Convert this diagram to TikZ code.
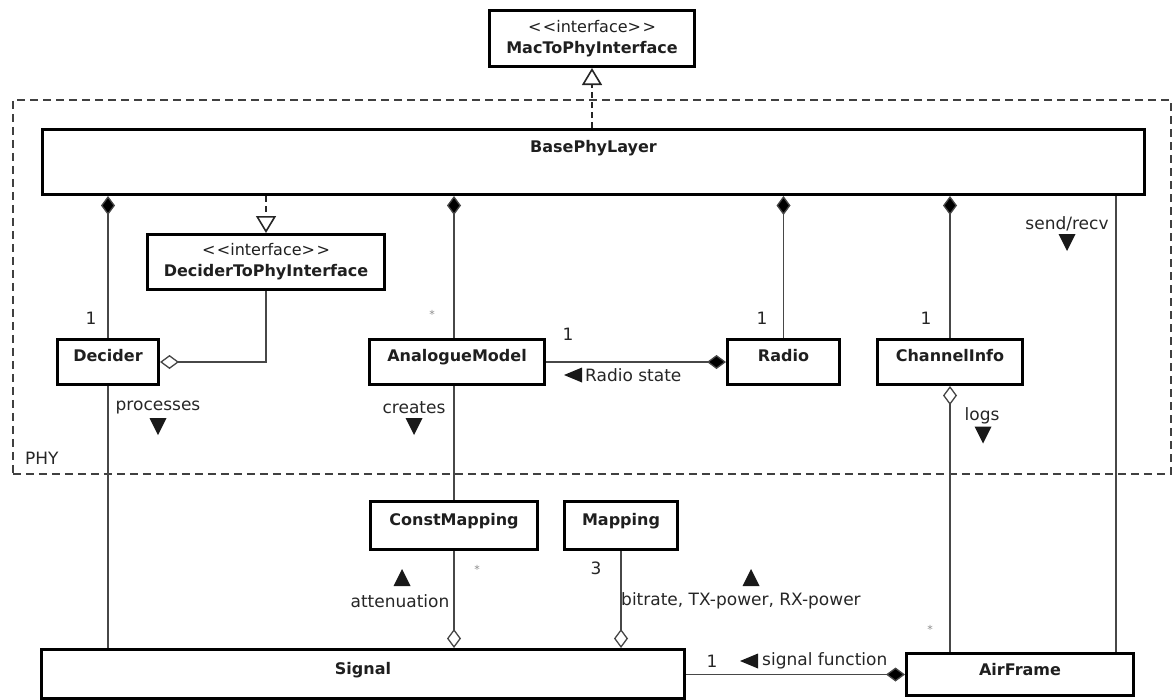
\documentclass[tikz,border=0pt]{standalone}
\usepackage{fontspec}
\setmainfont{DejaVu Sans}
\usetikzlibrary{arrows.meta}
\begin{document}
\begin{tikzpicture}[x=1pt,y=-1pt,
  cls/.style={draw=black, line width=3pt, fill=white, inner sep=0pt, anchor=north west,
    font=\bfseries\fontsize{16}{20}\selectfont, text=black!88},
  iface/.style={draw=black, line width=3pt, fill=white, inner sep=0pt, anchor=north west,
    align=center, font=\fontsize{16}{21}\selectfont, text=black!88},
  conn/.style={draw=black!72, line width=1.3pt},
  realize/.style={draw=black!85, line width=1.6pt, dash pattern=on 6pt off 4pt,
    -{Triangle[open,length=17pt,width=20pt,fill=white]}},
  comp/.style={conn, {Diamond[length=19pt,width=14pt,fill=black]}-},
  compend/.style={conn, -{Diamond[length=19pt,width=14pt,fill=black]}},
  aggstart/.style={conn, {Diamond[open,length=19pt,width=14pt,fill=white]}-},
  aggend/.style={conn, -{Diamond[open,length=19pt,width=14pt,fill=white]}},
  lbl/.style={font=\fontsize{17}{20}\selectfont, inner sep=0pt, text=black!85},
  mult/.style={font=\fontsize{11}{12}\selectfont, inner sep=0pt, text=black!45},
  downtri/.pic={\fill[black!90] (-8.5,-8.5) -- (8.5,-8.5) -- (0,8.5) -- cycle;},
  uptri/.pic={\fill[black!90] (-8.5,8.5) -- (8.5,8.5) -- (0,-8.5) -- cycle;},
  lefttri/.pic={\fill[black!90] (9,-7.5) -- (9,7.5) -- (-9,0) -- cycle;}
]
\useasboundingbox (0,0) rectangle (1172,699);

% package frame
\node[draw=black!75, line width=1.8pt, dash pattern=on 8pt off 5pt, inner sep=0pt,
  minimum width=1158pt, minimum height=374pt, anchor=north west] (phy) at (12,99) {};
\node[lbl, anchor=west] (phylbl) at (25,458) {PHY};

% classes
\node[iface, minimum width=205pt, minimum height=56pt] (mac) at (488,9)
  {<\kern1.5pt<interface>\kern1.5pt>\\\textbf{MacToPhyInterface}};
\node[cls, minimum width=1102pt, text height=23pt, text depth=42pt] (bpl) at (41,128) {BasePhyLayer};
\node[iface, minimum width=237pt, minimum height=55pt] (dtp) at (146,233)
  {<\kern1.5pt<interface>\kern1.5pt>\\\textbf{DeciderToPhyInterface}};
\node[cls, minimum width=101pt, text height=22pt, text depth=23pt] (dec) at (56,338) {Decider};
\node[cls, minimum width=175pt, text height=22pt, text depth=23pt] (am) at (368,338) {AnalogueModel};
\node[cls, minimum width=112pt, text height=22pt, text depth=23pt] (rad) at (726,338) {Radio};
\node[cls, minimum width=145pt, text height=22pt, text depth=23pt] (ci) at (876,338) {ChannelInfo};
\node[cls, minimum width=167pt, text height=24pt, text depth=24pt] (cm) at (369,500) {ConstMapping};
\node[cls, minimum width=113pt, text height=24pt, text depth=24pt] (map) at (563,500) {Mapping};
\node[cls, minimum width=643pt, text height=25pt, text depth=24pt] (sig) at (40,648) {Signal};
\node[cls, minimum width=227pt, text height=22pt, text depth=20pt] (af) at (905,652) {AirFrame};
\coordinate (sr) at (1116,0);

% connectors
\draw[realize] (bpl.north -| mac.south) -- (mac.south);
\draw[realize] (bpl.south -| dtp.north) -- (dtp.north);
\draw[comp] (bpl.south -| dec.north) -- (dec.north);
\draw[comp] (bpl.south -| cm.north) -- (am.north -| cm.north);
\draw[comp] (bpl.south -| rad.north) -- (rad.north);
\draw[comp] (bpl.south -| ci.north) -- (ci.north);
\draw[aggend] (dtp.south) |- (dec.east);
\draw[compend] (am.east) -- (rad.west);
\draw[conn] (dec.south) -- (sig.north -| dec.south);
\draw[conn] (am.south -| cm.north) -- (cm.north);
\draw[aggend] (cm.south) -- (sig.north -| cm.south);
\draw[aggend] (map.south) -- (sig.north -| map.south);
\draw[aggstart] (ci.south) -- (af.north -| ci.south);
\draw[conn] (bpl.south -| sr) -- (af.north -| sr);
\draw[compend] (sig.east |- af.west) -- (af.west);

% multiplicities
\node[lbl] (m1) at (91,318) {1};
\node[mult] (m2) at (432,314) {*};
\node[lbl] (m3) at (762,318) {1};
\node[lbl] (m4) at (926,318) {1};
\node[lbl] (m5) at (568,334) {1};
\node[mult] (m6) at (477,569) {*};
\node[lbl] (m7) at (596,568) {3};
\node[mult] (m8) at (930,629) {*};
\node[lbl] (m9) at (712,661) {1};

% association names
\node[lbl, anchor=west] (rs) at (585,375) {Radio state};
\pic at (573,375) {lefttri};
\node[lbl] (proc) at (158,408) {processes};
\pic at (158,426.5) {downtri};
\node[lbl] (cre) at (414,408) {creates};
\pic at (414,426.5) {downtri};
\node[lbl] (logs) at (982,416) {logs};
\pic at (983,435) {downtri};
\node[lbl] (sndrcv) at (1067,224) {send/recv};
\pic at (1067,242.5) {downtri};
\node[lbl] (att) at (400,601) {attenuation};
\pic at (402,577.5) {uptri};
\node[lbl, anchor=west] (bit) at (621,601) {bitrate, TX-power, RX-power};
\pic at (751,577.5) {uptri};
\node[lbl, anchor=west] (sf) at (762,661) {signal function};
\pic at (749,661) {lefttri};
\end{tikzpicture}
\end{document}
